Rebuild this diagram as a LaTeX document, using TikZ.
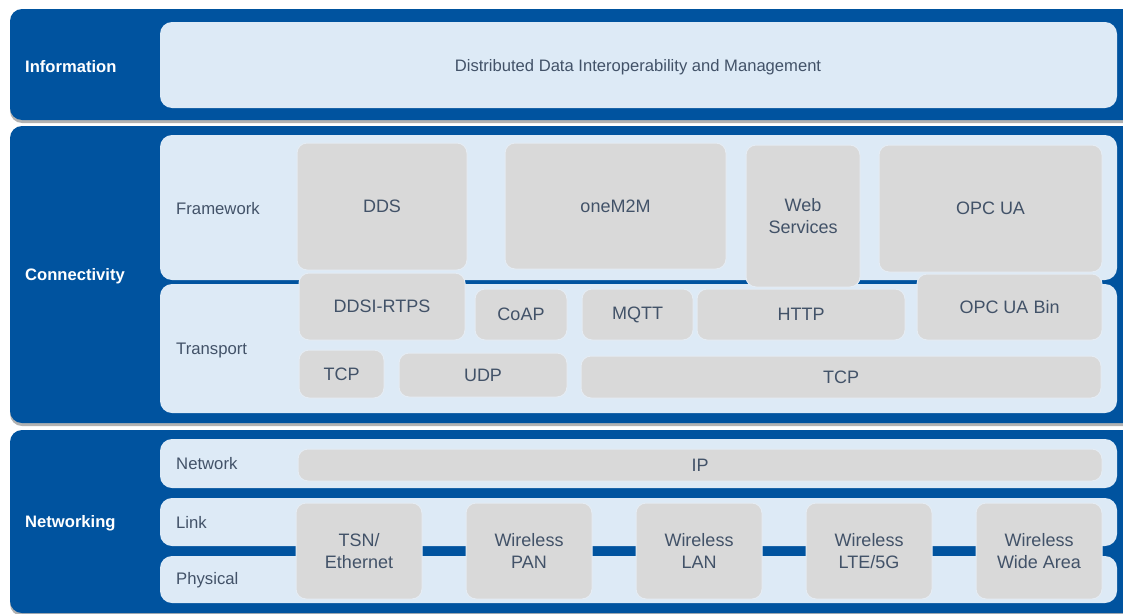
\documentclass[tikz,border=0pt]{standalone}
\usepackage{fontspec}
\setmainfont{Liberation Sans}
\usetikzlibrary{shadows}
\definecolor{bluebg}{RGB}{0,83,159}
\definecolor{lightp}{RGB}{221,234,246}
\definecolor{grayb}{RGB}{217,217,217}
\definecolor{txtc}{RGB}{66,82,104}
\definecolor{gedge}{RGB}{229,236,244}
% #1 name, #2 x1, #3 y1, #4 x2, #5 y2, #6 style, #7 text
\newcommand\rbox[7]{\node[#6, minimum width={(#4-#2)*1pt}, minimum height={(#5-#3)*1pt}] (#1) at ({(#2+#4)/2},{(#3+#5)/2}) {#7};}
\begin{document}
\begin{tikzpicture}[x=1pt,y=-1pt,
  bluep/.style={fill=bluebg, draw=none, rounded corners=12pt, inner sep=0pt,
     drop shadow={shadow xshift=0pt, shadow yshift=-3pt, fill=black, opacity=0.3}},
  lightpanel/.style={fill=lightp, draw=none, rounded corners=12pt, inner sep=0pt},
  gbox/.style={fill=grayb, draw=gedge, line width=1pt, rounded corners=10pt, inner sep=0pt,
     text=txtc, font=\fontsize{18}{22}\selectfont, align=center},
  side/.style={text=white, font=\bfseries\fontsize{16.6}{19}\selectfont, anchor=west, inner sep=0pt},
  lbl/.style={text=txtc, font=\fontsize{16.7}{20}\selectfont, anchor=west, inner sep=0pt},
  infotext/.style={text=txtc, font=\fontsize{16.6}{20}\selectfont, inner sep=0pt}
]
\clip (0,0) rectangle (1123,613);
\fill[white] (0,0) rectangle (1123,613);

% blue layer panels
\rbox{infoP}{10}{9}{1140}{120}{bluep}{}
\rbox{connP}{10}{126}{1140}{423}{bluep}{}
\rbox{netwP}{10}{430}{1140}{613}{bluep}{}

% light sub panels
\rbox{infoL}{160}{22}{1117}{108}{lightpanel}{}
\rbox{frameL}{160}{135}{1117}{280}{lightpanel}{}
\rbox{transL}{160}{284}{1117}{413}{lightpanel}{}
\rbox{networkL}{160}{439}{1117}{488}{lightpanel}{}
\rbox{linkL}{160}{498}{1117}{546}{lightpanel}{}
\rbox{physL}{160}{556}{1117}{603}{lightpanel}{}

% side labels
\node[side] (infoT) at (25,67) {Information};
\node[side] (connT) at (25,276) {Connectivity};
\node[side] (netwT) at (25,523) {Networking};

% sub labels
\node[lbl] (frameT) at (176,209) {Framework};
\node[lbl] (transT) at (176,350) {Transport};
\node[lbl] (networkT) at (176,464) {Network};
\node[lbl] (linkT) at (176,522) {Link};
\node[lbl] (physT) at (176,580) {Physical};

\node[infotext] (ddim) at (638,67) {Distributed Data Interoperability and Management};

% framework boxes
\rbox{dds}{297}{143}{467}{270}{gbox, text depth=-3pt}{DDS}
\rbox{onem2m}{505}{143}{726}{269}{gbox, text depth=-3pt}{oneM2M}
\rbox{ws}{746}{145}{860}{287}{gbox}{Web\\Services}
\rbox{opcua}{879}{145}{1102}{272}{gbox, text depth=-2pt}{OPC UA}

% transport boxes
\rbox{rtps}{299}{273}{465}{340}{gbox}{DDSI-RTPS}
\rbox{coap}{475}{289}{567}{340}{gbox}{CoAP}
\rbox{mqtt}{582}{289}{693}{340}{gbox}{MQTT}
\rbox{http}{697}{289}{905}{340}{gbox}{HTTP}
\rbox{opcbin}{917}{274}{1102}{340}{gbox}{OPC UA Bin}
\rbox{tcpa}{299}{350}{384}{398}{gbox}{TCP}
\rbox{udp}{399}{353}{567}{397}{gbox}{UDP}
\rbox{tcpb}{581}{356}{1101}{398}{gbox}{TCP}

% networking boxes
\rbox{ip}{298}{449}{1102}{481}{gbox}{IP}
\rbox{tsn}{296}{503}{422}{599}{gbox}{TSN/\\Ethernet}
\rbox{pan}{466}{503}{592}{599}{gbox}{Wireless\\PAN}
\rbox{lan}{636}{503}{762}{599}{gbox}{Wireless\\LAN}
\rbox{lte}{806}{503}{932}{599}{gbox}{Wireless\\LTE/5G}
\rbox{wwa}{976}{503}{1102}{599}{gbox}{Wireless\\Wide Area}
\end{tikzpicture}
\end{document}
